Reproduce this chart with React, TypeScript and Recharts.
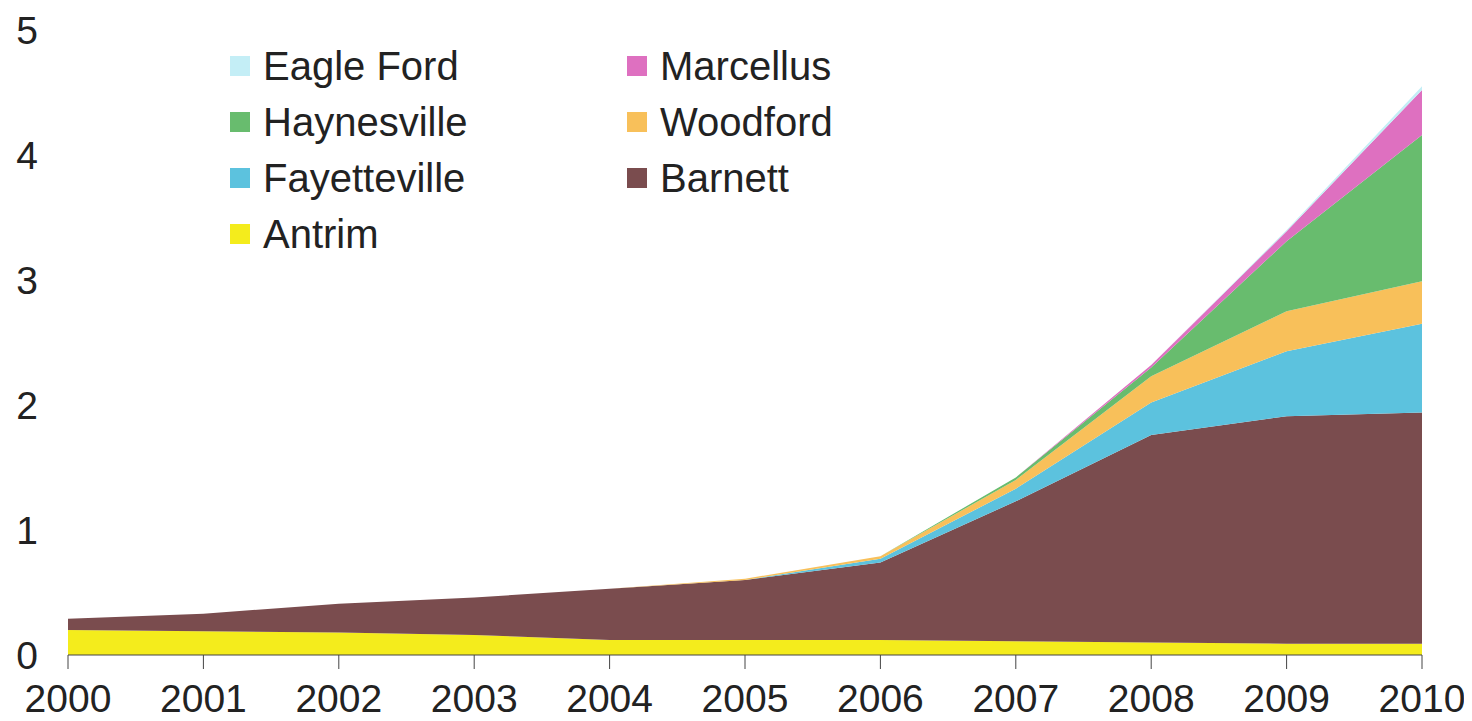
import React from 'react';
import { AreaChart, Area, XAxis, YAxis } from 'recharts';

const years = [2000, 2001, 2002, 2003, 2004, 2005, 2006, 2007, 2008, 2009, 2010];
const antrim = [0.2, 0.19, 0.18, 0.16, 0.12, 0.12, 0.12, 0.11, 0.1, 0.09, 0.09];
const barnett = [0.09, 0.14, 0.23, 0.3, 0.41, 0.48, 0.62, 1.12, 1.66, 1.82, 1.85];
const fayetteville = [0, 0, 0, 0, 0, 0, 0.03, 0.1, 0.26, 0.52, 0.71];
const woodford = [0, 0, 0, 0, 0, 0.01, 0.02, 0.07, 0.21, 0.32, 0.34];
const haynesville = [0, 0, 0, 0, 0, 0, 0, 0.02, 0.07, 0.56, 1.17];
const marcellus = [0, 0, 0, 0, 0, 0, 0, 0, 0.02, 0.08, 0.36];
const eagleFord = [0, 0, 0, 0, 0, 0, 0, 0, 0, 0.01, 0.03];
const yTicks = [0, 1, 2, 3, 4, 5];

// stacking order, bottom first
const series = [
  { key: 'Antrim', values: antrim, color: '#f4ec1c' },
  { key: 'Barnett', values: barnett, color: '#7a4c4e' },
  { key: 'Fayetteville', values: fayetteville, color: '#5cc2de' },
  { key: 'Woodford', values: woodford, color: '#f8c05a' },
  { key: 'Haynesville', values: haynesville, color: '#68bc6e' },
  { key: 'Marcellus', values: marcellus, color: '#de70c0' },
  { key: 'Eagle Ford', values: eagleFord, color: '#c4eef6' },
];

const data = years.map((year, i) => {
  const row: Record<string, number> = { year };
  series.forEach((s) => {
    row[s.key] = s.values[i];
  });
  return row;
});

const FONT = '"Liberation Sans", Arial, sans-serif';

// legend reads top-down, two columns, reverse of stack order
const ChartLegend = () => {
  const items = [...series].reverse();
  return (
    <div
      style={{
        position: 'absolute',
        left: 222,
        top: 30,
        display: 'grid',
        gridTemplateColumns: '397px 300px',
        gridAutoRows: '56px',
        fontFamily: FONT,
        fontSize: 40,
        color: '#222',
      }}
    >
      {items.map((s) => (
        <div key={s.key} style={{ display: 'flex', alignItems: 'center' }}>
          <span style={{ width: 20, height: 20, background: s.color, marginRight: 13, display: 'inline-block' }} />
          <span>{s.key}</span>
        </div>
      ))}
    </div>
  );
};

export default function App() {
  return (
    <div style={{ position: 'relative', width: 1464, height: 713, background: '#fff' }}>
      <AreaChart width={1464} height={713} data={data} margin={{ top: 22, right: 50, bottom: 8, left: 0 }}>
        <XAxis
          dataKey="year"
          type="number"
          domain={[2000, 2010]}
          ticks={years}
          height={58}
          stroke="#444"
          tickSize={14}
          tickMargin={15}
          tick={{ fill: '#222', fontSize: 39, fontFamily: FONT }}
        />
        <YAxis
          domain={[0, 5]}
          ticks={yTicks}
          width={60}
          axisLine={false}
          tickLine={false}
          tickSize={0}
          tickMargin={30}
          tick={{ fill: '#222', fontSize: 39, fontFamily: FONT }}
        />
        {series.map((s) => (
          <Area
            key={s.key}
            type="linear"
            dataKey={s.key}
            stackId="1"
            stroke="none"
            fill={s.color}
            fillOpacity={1}
            isAnimationActive={false}
          />
        ))}
      </AreaChart>
      <ChartLegend />
    </div>
  );
}
